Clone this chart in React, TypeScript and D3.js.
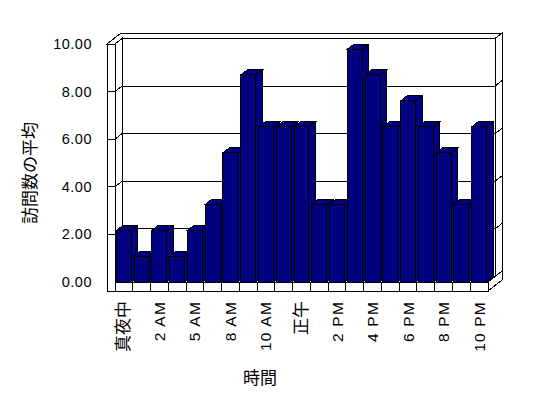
import React from "react";
import * as d3 from "d3";

const categories = [
  "真夜中", "1 AM", "2 AM", "4 AM", "5 AM", "7 AM", "8 AM", "9 AM", "10 AM", "11 AM",
  "正午", "1 PM", "2 PM", "3 PM", "4 PM", "5 PM", "6 PM", "7 PM", "8 PM", "9 PM", "10 PM",
];
const values = [
  2.17, 1.09, 2.17, 1.09, 2.17, 3.26, 5.43, 8.7, 6.52, 6.52, 6.52,
  3.26, 3.26, 9.78, 8.7, 6.52, 7.61, 6.52, 5.43, 3.26, 6.52,
];
const tickLabels = ["真夜中", "2 AM", "5 AM", "8 AM", "10 AM", "正午", "2 PM", "4 PM", "6 PM", "8 PM", "10 PM"];
const yTicks = [0, 2, 4, 6, 8, 10];
const xTitle = "時間";
const yTitle = "訪問数の平均";

const W = 548, H = 398;
const X0 = 115, X1 = 488, Y0 = 282, Y10 = 44;
const DX = 7, DY = -5.5;
const WALL = 8, FLOOR = 9;
const BDX = 6.5, BDY = -5;
const PAD = 1.4;

const LATIN = "'Liberation Sans', Arial, sans-serif";
const CJK = "'Noto Sans CJK JP', sans-serif";

type P = [number, number];
const pts = (arr: P[]) => arr.map((p) => p.join(",")).join(" ");

export default function App() {
  const x = d3.scaleBand<string>().domain(categories).range([X0, X1]).padding(0);
  const y = d3.scaleLinear().domain([0, 10]).range([Y0, Y10]);
  const bw = x.bandwidth();
  const y0 = y(0), y10 = y(10);
  const fmt = d3.format(".2f");
  const S = { stroke: "#000", strokeWidth: 1, fill: "#fff" };

  return (
    <svg width={W} height={H} style={{ position: "absolute", left: 0, top: 0, background: "#fff" }} shapeRendering="crispEdges">
      {/* back wall inner face */}
      <polygon {...S} points={pts([[X0 + DX, y10 + DY], [X1 + DX, y10 + DY], [X1 + DX, y0 + DY], [X0 + DX, y0 + DY]])} />
      {/* top faces (back wall + left wall) */}
      <polygon {...S} points={pts([[X0 - WALL, y10], [X0, y10], [X0 + DX, y10 + DY], [X1 + DX, y10 + DY], [X1 + 2 * DX, y10 + 2 * DY], [X0 - WALL + 2 * DX, y10 + 2 * DY]])} />
      {/* back wall right face */}
      <polygon {...S} points={pts([[X1 + DX, y10 + DY], [X1 + 2 * DX, y10 + 2 * DY], [X1 + 2 * DX, y0 + 2 * DY], [X1 + DX, y0 + DY]])} />
      {/* floor right face */}
      <polygon {...S} points={pts([[X1, y0], [X1 + 2 * DX, y0 + 2 * DY], [X1 + 2 * DX, y0 + 2 * DY + FLOOR], [X1, y0 + FLOOR]])} />
      {/* floor top */}
      <polygon {...S} points={pts([[X0, y0], [X1, y0], [X1 + DX, y0 + DY], [X0 + DX, y0 + DY]])} />
      {/* left wall inner face */}
      <polygon {...S} points={pts([[X0, y10], [X0 + DX, y10 + DY], [X0 + DX, y0 + DY], [X0, y0]])} />
      {/* left wall front face */}
      <rect {...S} x={X0 - WALL} y={y10} width={WALL} height={y0 + FLOOR - y10} />
      {/* floor front face */}
      <rect {...S} x={X0} y={y0} width={X1 - X0} height={FLOOR} />
      {categories.slice(1).map((c) => (
        <line key={"d" + c} x1={x(c)!} x2={x(c)!} y1={y0} y2={y0 + FLOOR} stroke="#000" />
      ))}
      {/* gridlines */}
      {yTicks.filter((v) => v > 0 && v < 10).map((v) => {
        const yy = y(v);
        return (
          <g key={"g" + v} stroke="#000" fill="none">
            <line x1={X0 - WALL} x2={X0} y1={yy} y2={yy} />
            <line x1={X0} y1={yy} x2={X0 + DX} y2={yy + DY} />
            <line x1={X0 + DX} x2={X1 + DX} y1={yy + DY} y2={yy + DY} />
            <line x1={X1 + DX} y1={yy + DY} x2={X1 + 2 * DX} y2={yy + 2 * DY} />
          </g>
        );
      })}
      {/* bars */}
      {categories.map((c, i) => {
        const l = x(c)! + PAD;
        const r = x(c)! + bw - PAD;
        const t = y(values[i]);
        return (
          <g key={"b" + c} fill="#000080" stroke="#000">
            <polygon points={pts([[r, t], [r + BDX, t + BDY], [r + BDX, y0 + BDY], [r, y0]])} />
            <polygon points={pts([[l, t], [r, t], [r + BDX, t + BDY], [l + BDX, t + BDY]])} />
            <rect x={l} y={t} width={r - l} height={y0 - t} />
          </g>
        );
      })}
      {/* y tick labels */}
      {yTicks.map((v) => (
        <text key={"yt" + v} x={92} y={y(v) + 5} textAnchor="end" fontFamily={LATIN} fontSize={14.5} letterSpacing={0.5} fill="#000">
          {fmt(v)}
        </text>
      ))}
      {/* x tick labels */}
      {categories.map((c) =>
        tickLabels.includes(c) ? (
          <text
            key={"xt" + c}
            transform={`translate(${x(c)! + bw / 2 + 5.5},301) rotate(-90)`}
            textAnchor="end"
            fontFamily={/[A-Z0-9]/.test(c) ? LATIN : CJK}
            fontSize={/[A-Z0-9]/.test(c) ? 15.5 : 17}
            letterSpacing={/[A-Z0-9]/.test(c) ? 1.2 : 0}
            fill="#000"
          >
            {c}
          </text>
        ) : null
      )}
      <text transform="translate(36,173) rotate(-90)" textAnchor="middle" fontFamily={CJK} fontSize={17} fill="#000">
        {yTitle}
      </text>
      <text x={260} y={384} textAnchor="middle" fontFamily={CJK} fontSize={17} fill="#000">
        {xTitle}
      </text>
    </svg>
  );
}
